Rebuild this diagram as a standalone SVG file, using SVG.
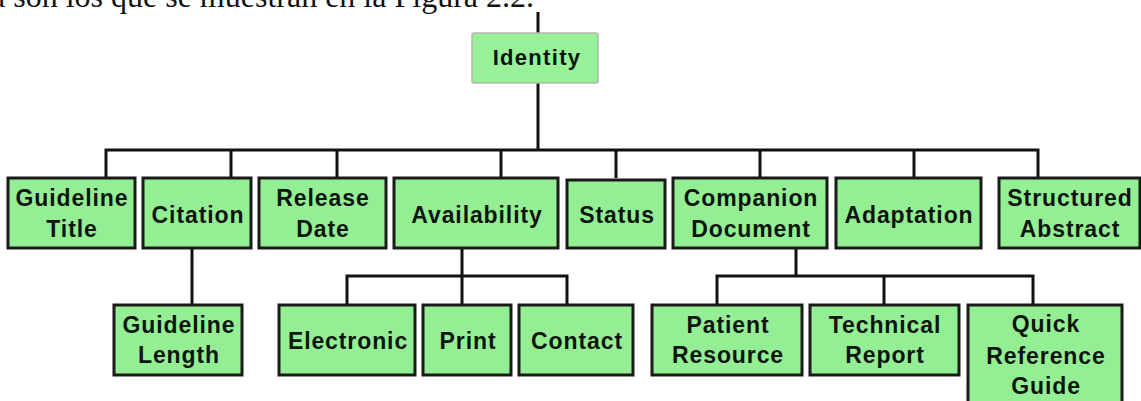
<svg xmlns="http://www.w3.org/2000/svg" width="1141" height="401" viewBox="0 0 1141 401">
<style>
.box{fill:#94ef94;stroke:#1a1a1a;stroke-width:3}
.root{fill:#98f098;stroke:#b0b8b0;stroke-width:1.5}
.t{font-family:"Liberation Sans",Arial,sans-serif;font-weight:bold;font-size:23px;letter-spacing:0.9px;fill:#0e150e;text-anchor:middle}
.rt{font-family:"Liberation Sans",Arial,sans-serif;font-weight:bold;font-size:22px;letter-spacing:1.3px;fill:#0e150e;text-anchor:middle}
.c{fill:none;stroke:#111;stroke-width:3}
.cap{font-family:"Liberation Serif","Times New Roman",serif;font-size:32px;fill:#111}
</style>
<rect width="1141" height="401" fill="#fff"/>
<text class="cap" x="-9" y="7">a son los que se muestran en la Figura 2.2.</text>
<g id="connectors">
<path class="c" d="M538 12V33M538 83V150M106 178V150H1038V178M231 150V178M337 150V178M501 150V178M616 150V178M760 150V178M914 150V178"/>
<path class="c" d="M192 248V305"/>
<path class="c" d="M462 248V305M347 305V276H567V305"/>
<path class="c" d="M796 248V276M717 305V276H1033V305M884 276V305"/>
</g>
<g id="identity"><rect class="root" x="472" y="33" width="126" height="50" rx="2"/><text class="rt" x="537" y="65">Identity</text></g>
<g id="guideline-title"><rect class="box" x="8" y="178" width="127" height="70"/><text class="t" x="72" y="206">Guideline</text><text class="t" x="72" y="237">Title</text></g>
<g id="citation"><rect class="box" x="143" y="178" width="108" height="70"/><text class="t" x="198" y="223">Citation</text></g>
<g id="release-date"><rect class="box" x="259" y="178" width="127" height="70"/><text class="t" x="323" y="206">Release</text><text class="t" x="323" y="237">Date</text></g>
<g id="availability"><rect class="box" x="394" y="178" width="164" height="70"/><text class="t" x="477" y="223">Availability</text></g>
<g id="status"><rect class="box" x="567" y="180" width="98" height="68"/><text class="t" x="617" y="223">Status</text></g>
<g id="companion-document"><rect class="box" x="673" y="178" width="154" height="70"/><text class="t" x="751" y="206">Companion</text><text class="t" x="751" y="237">Document</text></g>
<g id="adaptation"><rect class="box" x="836" y="178" width="145" height="70"/><text class="t" x="909" y="223">Adaptation</text></g>
<g id="structured-abstract"><rect class="box" x="999" y="178" width="141" height="70"/><text class="t" x="1070" y="206">Structured</text><text class="t" x="1070" y="237">Abstract</text></g>
<g id="guideline-length"><rect class="box" x="114" y="305" width="128" height="70"/><text class="t" x="179" y="333">Guideline</text><text class="t" x="179" y="363">Length</text></g>
<g id="electronic"><rect class="box" x="279" y="305" width="136" height="70"/><text class="t" x="348" y="349">Electronic</text></g>
<g id="print"><rect class="box" x="423" y="305" width="88" height="70"/><text class="t" x="468" y="349">Print</text></g>
<g id="contact"><rect class="box" x="519" y="305" width="114" height="70"/><text class="t" x="577" y="349">Contact</text></g>
<g id="patient-resource"><rect class="box" x="652" y="305" width="150" height="70"/><text class="t" x="728" y="333">Patient</text><text class="t" x="728" y="363">Resource</text></g>
<g id="technical-report"><rect class="box" x="810" y="305" width="149" height="70"/><text class="t" x="885" y="333">Technical</text><text class="t" x="885" y="363">Report</text></g>
<g id="quick-reference-guide"><rect class="box" x="968" y="305" width="154" height="105"/><text class="t" x="1046" y="332">Quick</text><text class="t" x="1046" y="364">Reference</text><text class="t" x="1046" y="394">Guide</text></g>
</svg>
